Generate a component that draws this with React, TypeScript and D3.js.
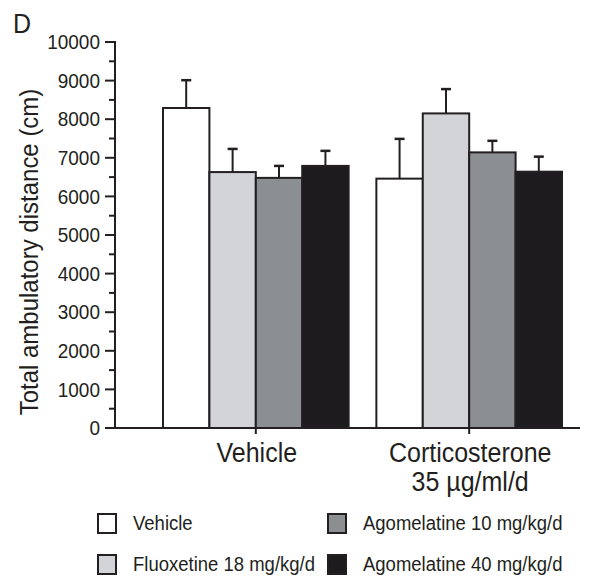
import * as d3 from "d3";

const groups = ["Vehicle", "Corticosterone"];
const groupSub = ["", "35 µg/ml/d"];
const treatments = [
  "Vehicle",
  "Fluoxetine 18 mg/kg/d",
  "Agomelatine 10 mg/kg/d",
  "Agomelatine 40 mg/kg/d",
];
const colors = ["#ffffff", "#d3d4d8", "#8c8f91", "#1d1b1d"];
// mean values per group, one per treatment
const vehicleMeans = [8290, 6630, 6480, 6790];
const vehicleErr = [720, 600, 310, 390];
const corticoMeans = [6460, 8150, 7140, 6640];
const corticoErr = [1030, 630, 300, 390];
const yTicks = [0, 1000, 2000, 3000, 4000, 5000, 6000, 7000, 8000, 9000, 10000];

const W = 599;
const H = 577;
const ink = "#231f20";
const font = "Liberation Sans, Arial, sans-serif";
const SY = 1.08; // the figure's lettering is a bit taller than wide

function Txt(props: {
  x: number;
  y: number;
  size: number;
  anchor?: string;
  rotate?: number;
  dy?: string;
  children: React.ReactNode;
}) {
  const { x, y, size, anchor = "start", rotate = 0, dy, children } = props;
  return (
    <g transform={`translate(${x},${y}) rotate(${rotate}) scale(1,${SY})`}>
      <text dy={dy} textAnchor={anchor} fontFamily={font} fontSize={size} fill={ink}>
        {children}
      </text>
    </g>
  );
}

export default function App() {
  const y = d3.scaleLinear().domain([0, 10000]).range([428, 42]);
  const gx = d3.scaleBand().domain(groups).range([163, 562]).paddingInner(0.13);
  const bx = d3.scaleBand().domain(treatments).range([0, gx.bandwidth()]);

  const data = [
    { g: groups[0], means: vehicleMeans, errs: vehicleErr },
    { g: groups[1], means: corticoMeans, errs: corticoErr },
  ];

  const minor = d3.range(500, 10000, 1000);

  return (
    <svg width={W} height={H} style={{ display: "block", position: "absolute", left: 0, top: 0 }}>
      <rect width={W} height={H} fill="#fff" />
      <Txt x={13} y={33} size={25}>D</Txt>

      <Txt x={38} y={252} size={24} anchor="middle" rotate={-90}>
        Total ambulatory distance (cm)
      </Txt>

      {/* bars */}
      {data.map((d) => (
        <g key={d.g} transform={`translate(${gx(d.g)},0)`}>
          {d.means.map((m, i) => {
            const x0 = bx(treatments[i])!;
            const cx = x0 + bx.bandwidth() / 2;
            const top = y(d.means[i] + d.errs[i]);
            return (
              <g key={i}>
                <line x1={cx} x2={cx} y1={y(m)} y2={top} stroke={ink} strokeWidth={2} />
                <line x1={cx - 5} x2={cx + 5} y1={top} y2={top} stroke={ink} strokeWidth={2.5} />
                <rect
                  x={x0}
                  y={y(m)}
                  width={bx.bandwidth()}
                  height={y(0) - y(m)}
                  fill={colors[i]}
                  stroke={ink}
                  strokeWidth={2}
                />
              </g>
            );
          })}
        </g>
      ))}

      {/* y axis */}
      <line x1={115} x2={115} y1={y(10000) - 1} y2={y(0)} stroke={ink} strokeWidth={2} />
      {yTicks.map((t) => (
        <g key={t}>
          <line x1={105} x2={115} y1={y(t)} y2={y(t)} stroke={ink} strokeWidth={2} />
          <Txt x={100} y={y(t)} size={19} anchor="end" dy="0.35em">
            {t}
          </Txt>
        </g>
      ))}
      {minor.map((t) => (
        <line key={t} x1={109} x2={115} y1={y(t)} y2={y(t)} stroke={ink} strokeWidth={2} />
      ))}

      {/* x axis */}
      <line x1={107} x2={580} y1={y(0)} y2={y(0)} stroke={ink} strokeWidth={2} />
      {groups.map((g, i) => {
        const cx = gx(g)! + gx.bandwidth() / 2;
        return (
          <g key={g}>
            <line x1={cx} x2={cx} y1={y(0)} y2={y(0) + 6} stroke={ink} strokeWidth={2} />
            <Txt x={cx + 1} y={462} size={25} anchor="middle">
              {g}
            </Txt>
            {groupSub[i] && (
              <Txt x={cx + 1} y={491} size={25} anchor="middle">
                {groupSub[i]}
              </Txt>
            )}
          </g>
        );
      })}

      {/* legend */}
      {treatments.map((t, i) => {
        const col = i === 0 || i === 1 ? 0 : 1;
        const row = i === 0 || i === 2 ? 0 : 1;
        const lx = col === 0 ? 98 : 328;
        const ly = 514 + row * 41;
        return (
          <g key={t}>
            <rect x={lx} y={ly} width={18} height={19} fill={colors[i]} stroke={ink} strokeWidth={2} />
            <Txt x={lx + 35} y={ly + 16} size={18.5}>
              {t}
            </Txt>
          </g>
        );
      })}
    </svg>
  );
}
